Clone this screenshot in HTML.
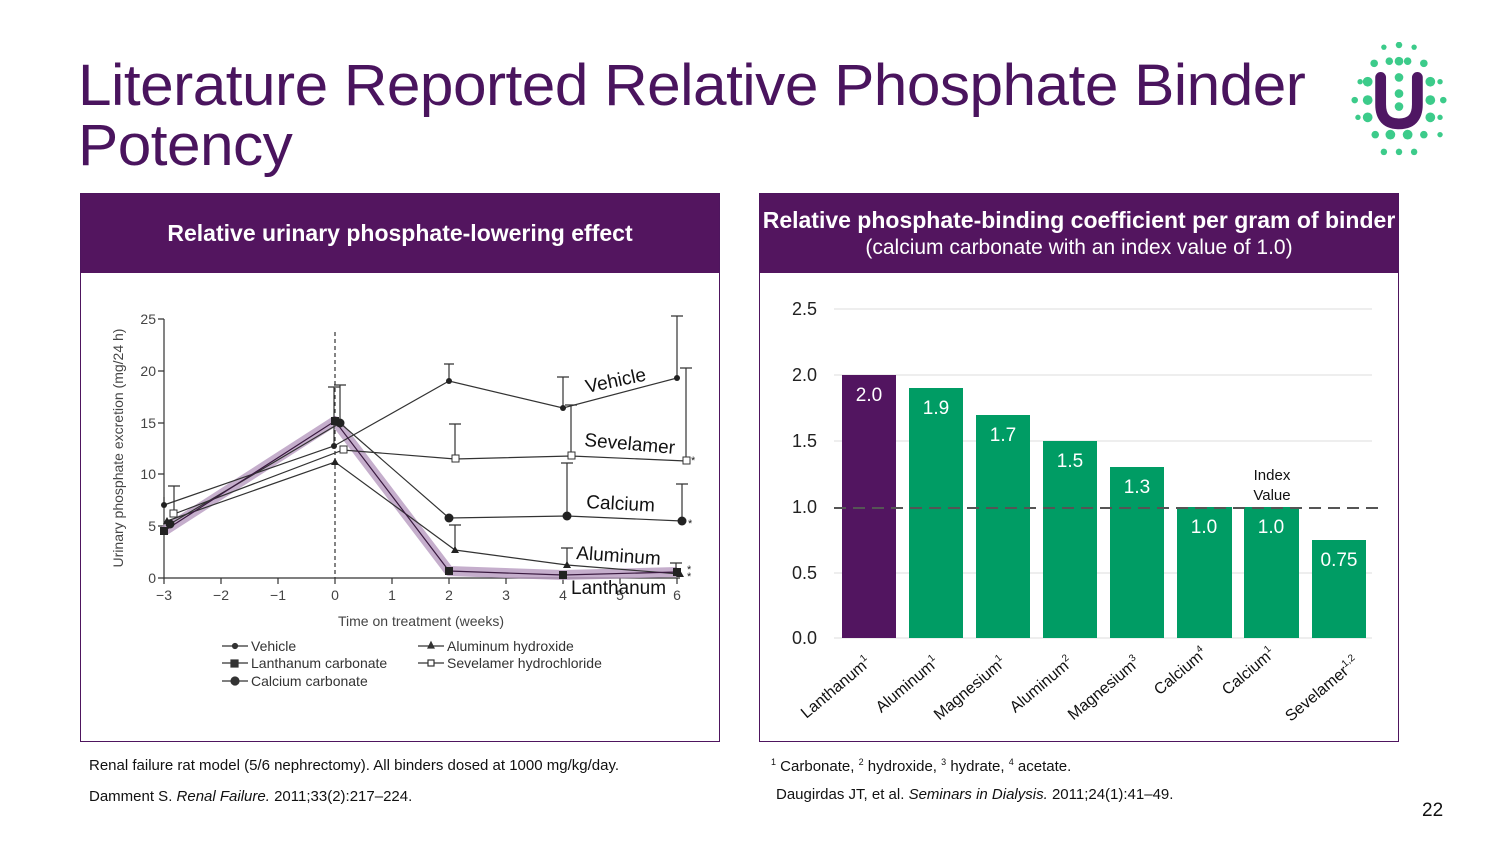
<!DOCTYPE html>
<html><head><meta charset="utf-8"><style>
body{margin:0;width:1500px;height:843px;background:#fff;font-family:"Liberation Sans",sans-serif;position:relative;overflow:hidden}
.t{position:absolute;left:78px;top:56px;font-size:58px;line-height:60px;color:#4a145e;letter-spacing:-0.5px;transform:scaleX(1.04);transform-origin:0 0}
.box{position:absolute;top:193px;height:549px;border:1.5px solid #4e155e;box-sizing:border-box}
.hd{background:#53155f;color:#fff;height:79px;display:flex;flex-direction:column;justify-content:center;align-items:center;font-weight:bold;font-size:23px;text-align:center}
.fn{position:absolute;font-size:15px;color:#111}
</style></head><body>
<div class="t">Literature Reported Relative Phosphate Binder<br>Potency</div>
<svg style="position:absolute;left:1340px;top:42px" width="120" height="115" viewBox="0 0 120 115">
<g transform="translate(59,57) scale(1.08) translate(-59,-57)">
<g fill="#3ccb8a">
<circle cx="59" cy="7" r="3"/><circle cx="45" cy="9" r="2.5"/><circle cx="73" cy="9" r="2.5"/>
<circle cx="36" cy="24" r="3.5"/><circle cx="50" cy="22" r="3.5"/><circle cx="67" cy="22" r="3.5"/><circle cx="82" cy="24" r="3.5"/>
<circle cx="59" cy="22" r="4"/><circle cx="59" cy="37" r="4"/><circle cx="59" cy="52" r="4"/><circle cx="59" cy="64" r="4"/>
<circle cx="23" cy="41" r="2.5"/><circle cx="30" cy="41" r="4.5"/><circle cx="88" cy="41" r="4.5"/><circle cx="97" cy="41" r="2.5"/>
<circle cx="18" cy="58" r="3"/><circle cx="30" cy="58" r="4.5"/><circle cx="88" cy="58" r="4.5"/><circle cx="100" cy="58" r="3"/>
<circle cx="21" cy="74" r="2.5"/><circle cx="30" cy="74" r="4.5"/><circle cx="88" cy="74" r="4.5"/><circle cx="97" cy="74" r="2.5"/>
<circle cx="37" cy="90" r="3.5"/><circle cx="51" cy="90" r="4.5"/><circle cx="67" cy="90" r="4.5"/><circle cx="82" cy="90" r="3.5"/><circle cx="97" cy="90" r="2.5"/>
<circle cx="45" cy="106" r="3"/><circle cx="59" cy="106" r="3"/><circle cx="73" cy="106" r="3"/>
</g>
<path d="M42 37 V62 Q42 80 59 80 Q76 80 76 62 V37" fill="none" stroke="#4f1763" stroke-width="10" stroke-linecap="round"/>
</g>
</svg>

<div class="box" style="left:80px;width:640px"><div class="hd">Relative urinary phosphate-lowering effect</div></div>
<div class="box" style="left:759px;width:640px"><div class="hd" style="font-size:23px;line-height:27px">Relative phosphate-binding coefficient per gram of binder<span style="font-weight:normal;font-size:21px">(calcium carbonate with an index value of 1.0)</span></div></div>

<svg style="position:absolute;left:0;top:0" width="1500" height="843" font-family="Liberation Sans,sans-serif">
<g stroke="#333" stroke-width="1.2" fill="none">
<path d="M164 319V578H680"/>
<path d="M158 319h6M158 371h6M158 423h6M158 474h6M158 526h6M158 578h6"/>
<path d="M164 578v6M221 578v6M278 578v6M335 578v6M392 578v6M449 578v6M506 578v6M563 578v6M620 578v6M677 578v6"/>
<path d="M335 332V578" stroke-dasharray="4,3"/>
</g>
<g font-size="14" fill="#444" text-anchor="end">
<text x="156" y="324">25</text><text x="156" y="376">20</text><text x="156" y="428">15</text><text x="156" y="479">10</text><text x="156" y="531">5</text><text x="156" y="583">0</text>
</g>
<g font-size="14" fill="#444" text-anchor="middle">
<text x="164" y="600">−3</text><text x="221" y="600">−2</text><text x="278" y="600">−1</text><text x="335" y="600">0</text><text x="392" y="600">1</text><text x="449" y="600">2</text><text x="506" y="600">3</text><text x="563" y="600">4</text><text x="620" y="600">5</text><text x="677" y="600">6</text>
<text x="421" y="626">Time on treatment (weeks)</text>
</g>
<text transform="translate(123,448) rotate(-90)" font-size="14" fill="#444" text-anchor="middle">Urinary phosphate excretion (mg/24 h)</text>
<polyline points="164,531 335,421 449,571 563,575 677,572" fill="none" stroke="#b69abf" stroke-width="10" stroke-linejoin="round" opacity=".8"/>
<g stroke="#333" stroke-width="1.2" fill="none">
<path d="M164 505v-8M174 514v-28M334 446v-59M340 422v-37M449 381v-17M455 459v-35M563 408v-31M571 458v-53M677 378v-62M686 461v-93M567 516v-53M682 523v-39M455 550v-25M567 565v-17M676 574v-11"/>
<path d="M444 364h10M449 424h12M557 377h12M565 405h12M671 316h12M680 368h12M561 463h12M676 484h12M449 525h12M561 548h12M670 563h12M168 486h12M328 387h12M334 385h12"/>
<polyline points="164,505 334,446 449,381 563,408 677,378"/>
<polyline points="174,514 343,450 455,459 571,456 686,461"/>
<polyline points="170,524 340,423 449,518 567,516 682,521"/>
<polyline points="167,521 335,462 455,550 567,565 680,574"/>
<polyline points="164,531 335,421 449,571 563,575 677,572" stroke="#3a1a40"/>
</g>
<g fill="#222">
<circle cx="164" cy="505" r="3"/><circle cx="334" cy="446" r="3"/><circle cx="449" cy="381" r="3"/><circle cx="563" cy="408" r="3"/><circle cx="677" cy="378" r="3"/>
<circle cx="170" cy="524" r="4.5"/><circle cx="340" cy="423" r="4.5"/><circle cx="449" cy="518" r="4.5"/><circle cx="567" cy="516" r="4.5"/><circle cx="682" cy="521" r="4.5"/>
<path d="M167 517l4 7h-8zM335 458l4 7h-8zM455 546l4 7h-8zM567 561l4 7h-8zM680 570l4 7h-8z"/>
<rect x="160" y="527" width="8" height="8"/><rect x="331" y="417" width="8" height="8"/><rect x="445" y="567" width="8" height="8"/><rect x="559" y="571" width="8" height="8"/><rect x="673" y="568" width="8" height="8"/>
</g>
<g fill="#fff" stroke="#333"><rect x="170" y="510" width="7" height="7"/><rect x="340" y="446" width="7" height="7"/><rect x="452" y="455" width="7" height="7"/><rect x="568" y="452" width="7" height="7"/><rect x="683" y="457" width="7" height="7"/></g>
<g font-size="11" fill="#222"><text x="691" y="464">*</text><text x="688" y="527">*</text><text x="687" y="573">*</text><text x="687" y="580">*</text></g>
<g font-size="19" fill="#111">
<text x="587" y="393" transform="rotate(-12 587 393)">Vehicle</text>
<text x="584" y="446" transform="rotate(5 584 446)">Sevelamer</text>
<text x="586" y="508" transform="rotate(3 586 508)">Calcium</text>
<text x="576" y="559" transform="rotate(4 576 559)">Aluminum</text>
<text x="571" y="594">Lanthanum</text>
</g>
<g font-size="14" fill="#333" stroke="#333" stroke-width="1.2">
<path d="M222 646h26M418 646h26M222 663h26M418 663h26M222 681h26"/>
<text x="251" y="651" stroke="none">Vehicle</text><text x="447" y="651" stroke="none">Aluminum hydroxide</text>
<text x="251" y="668" stroke="none">Lanthanum carbonate</text><text x="447" y="668" stroke="none">Sevelamer hydrochloride</text>
<text x="251" y="686" stroke="none">Calcium carbonate</text>
<circle cx="235" cy="646" r="2.5"/><path d="M431 642l3 6h-6z"/><rect x="231" y="660" width="7" height="7"/><rect x="428" y="660" width="6" height="6" fill="#fff"/><circle cx="235" cy="681" r="4"/>
</g>

<g stroke="#ddd" stroke-width="1"><path d="M834 309H1372M834 375H1372M834 441H1372M834 573H1372M834 638H1372"/></g>
<g font-size="18" fill="#222" text-anchor="end">
<text x="817" y="315">2.5</text><text x="817" y="381">2.0</text><text x="817" y="447">1.5</text><text x="817" y="513">1.0</text><text x="817" y="579">0.5</text><text x="817" y="644">0.0</text>
</g>
<rect x="842" y="375" width="54" height="263" fill="#521560"/>
<g fill="#009c64">
<rect x="909" y="388" width="54" height="250"/><rect x="976" y="415" width="54" height="223"/><rect x="1043" y="441" width="54" height="197"/><rect x="1110" y="467" width="54" height="171"/><rect x="1177" y="507" width="55" height="131"/><rect x="1244" y="507" width="55" height="131"/><rect x="1312" y="540" width="54" height="98"/>
</g>
<path d="M834 508H1384" stroke="#555" stroke-width="2" stroke-dasharray="12,7"/>
<g font-size="19" fill="#fff" text-anchor="middle">
<text x="869" y="401">2.0</text><text x="936" y="414">1.9</text><text x="1003" y="441">1.7</text><text x="1070" y="467">1.5</text><text x="1137" y="493">1.3</text><text x="1204" y="533">1.0</text><text x="1271" y="533">1.0</text><text x="1339" y="566">0.75</text>
</g>
<g font-size="15" fill="#111" text-anchor="middle"><text x="1272" y="480">Index</text><text x="1272" y="500">Value</text></g>
<g font-size="16" fill="#111" text-anchor="end">
<text transform="translate(872,664) rotate(-40)">Lanthanum<tspan font-size="10" dy="-7">1</tspan></text>
<text transform="translate(940,664) rotate(-40)">Aluminum<tspan font-size="10" dy="-7">1</tspan></text>
<text transform="translate(1007,664) rotate(-40)">Magnesium<tspan font-size="10" dy="-7">1</tspan></text>
<text transform="translate(1074,664) rotate(-40)">Aluminum<tspan font-size="10" dy="-7">2</tspan></text>
<text transform="translate(1141,664) rotate(-40)">Magnesium<tspan font-size="10" dy="-7">3</tspan></text>
<text transform="translate(1208,655) rotate(-40)">Calcium<tspan font-size="10" dy="-7">4</tspan></text>
<text transform="translate(1276,655) rotate(-40)">Calcium<tspan font-size="10" dy="-7">1</tspan></text>
<text transform="translate(1360,664) rotate(-40)">Sevelamer<tspan font-size="10" dy="-7">1,2</tspan></text>
</g>
</svg>
<div class="fn" style="left:89px;top:757px">Renal failure rat model (5/6 nephrectomy). All binders dosed at 1000 mg/kg/day.</div>
<div class="fn" style="left:89px;top:788px">Damment S. <i>Renal Failure.</i> 2011;33(2):217–224.</div>
<div class="fn" style="left:771px;top:757px"><sup style="font-size:9px">1</sup> Carbonate, <sup style="font-size:9px">2</sup> hydroxide, <sup style="font-size:9px">3</sup> hydrate, <sup style="font-size:9px">4</sup> acetate.</div>
<div class="fn" style="left:776px;top:786px">Daugirdas JT, et al. <i>Seminars in Dialysis.</i> 2011;24(1):41–49.</div>
<div class="fn" style="left:1422px;top:800px;font-size:19px">22</div>
</body></html>
